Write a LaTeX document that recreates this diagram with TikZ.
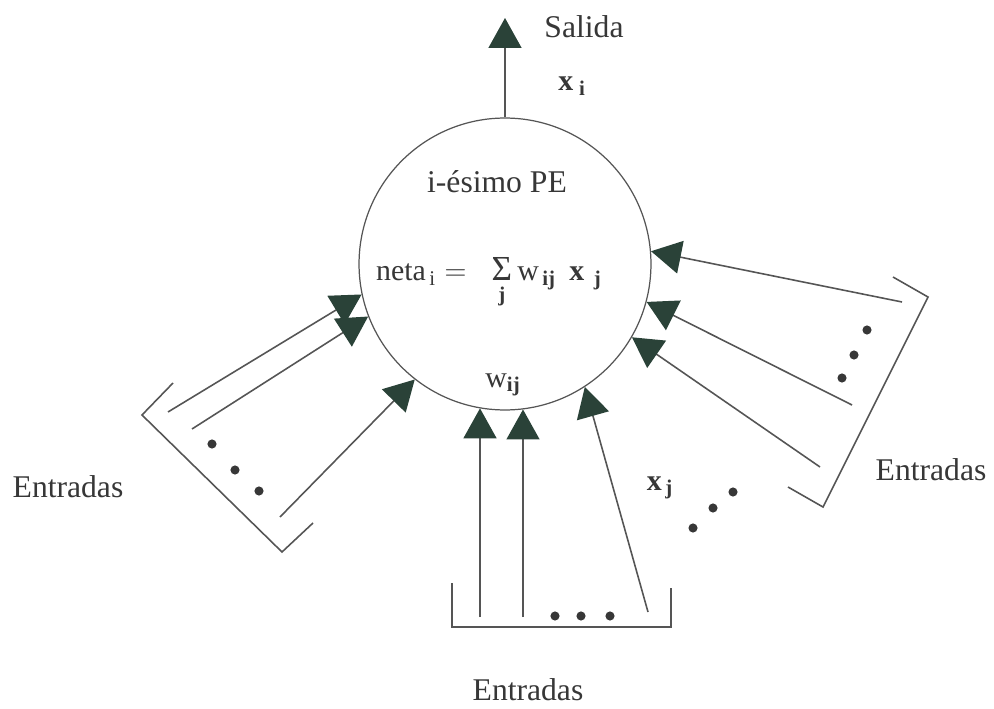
\documentclass[tikz,border=0pt]{standalone}
\usepackage{fontspec}
\setmainfont{Liberation Serif}
\usetikzlibrary{arrows.meta}
\definecolor{headgreen}{RGB}{42,66,56}
\definecolor{linegray}{RGB}{85,85,85}
\definecolor{inkgray}{RGB}{55,55,55}
\tikzset{
  feed/.style={draw=linegray,line width=0.9pt,
    -{Triangle[length=0.6cm,width=0.66cm,fill=headgreen,color=headgreen]}},
  rack/.style={draw=linegray,line width=0.9pt},
  lbl/.style={font=\fontsize{18}{21}\selectfont,text=inkgray},
  sym/.style={font=\fontsize{17}{20}\selectfont,text=inkgray},
}
\begin{document}
\begin{tikzpicture}[x=0.02cm,y=-0.02cm]
\useasboundingbox (0,0) rectangle (994,709);
\node[circle,draw=linegray,line width=0.7pt,minimum size=5.84cm,inner sep=0pt] (pe) at (505,264) {};

% salida
\coordinate (out) at (505,18);
\draw[feed] (pe.90) -- (out);
\node[lbl] (salida) at (584,27) {Salida};
\node[sym] (xi) at (572,86) {$\mathbf{x}_{\;\mathbf{i}}$};

\node[lbl] (titulo) at (497,182) {i-ésimo PE};
\node[sym,anchor=west] (neta) at (370,283)
  {$\mathrm{neta}_{\,\mathrm{i}} =\;\;\mathop{\mbox{\fontsize{20}{20}\selectfont Σ}}\limits_{\raisebox{-6pt}{$\scriptstyle\mathbf{j}$}}\mathrm{w}_{\,\mathbf{ij}}\;\,\mathbf{x}_{\;\,\mathbf{j}}$};
\node[sym] (wij) at (503,385) {$\mathrm{w}_{\mathbf{ij}}$};
\node[sym] (xj) at (660,488) {$\mathbf{x}_{\,\mathbf{j}}$};

% entradas izquierda
\coordinate (l1) at (168,412);
\coordinate (l2) at (192,429);
\coordinate (l3) at (280,517);
\draw[feed] (l1) -- (pe.192.8);
\draw[feed] (l2) -- (pe.201.4);
\draw[feed] (l3) -- (pe.232);
\draw[rack] (173,383) -- (142,415) -- (282,552) -- (313,523);
\foreach \p in {(212,444),(235,470),(259,491)}
  \fill[inkgray] \p circle (2.6pt);
\node[lbl] (entradaL) at (68,487) {Entradas};

% entradas derecha
\coordinate (r1) at (902,302);
\coordinate (r2) at (852,405);
\coordinate (r3) at (820,467);
\draw[feed] (r1) -- (pe.5.4);
\draw[feed] (r2) -- (pe.-15);
\draw[feed] (r3) -- (pe.-30);
\draw[rack] (893,277) -- (928,297) -- (823,507) -- (788,487);
\foreach \p in {(867,330),(854,355),(842,378)}
  \fill[inkgray] \p circle (2.6pt);
\node[lbl] (entradaR) at (931,470) {Entradas};

% entradas abajo
\coordinate (b1) at (480,617);
\coordinate (b2) at (523,617);
\coordinate (b3) at (648,612);
\draw[feed] (b1) -- (b1 |- pe.260);
\draw[feed] (b2) -- (b2 |- pe.277);
\draw[feed] (b3) -- (pe.-57);
\draw[rack] (452,583) -- (452,627) -- (671,627) -- (671,588);
\foreach \p in {(555,616),(581,616),(610,616)}
  \fill[inkgray] \p circle (2.6pt);
\foreach \p in {(693,528),(713,508),(733,492)}
  \fill[inkgray] \p circle (2.6pt);
\node[lbl] (entradaB) at (528,690) {Entradas};
\end{tikzpicture}
\end{document}
